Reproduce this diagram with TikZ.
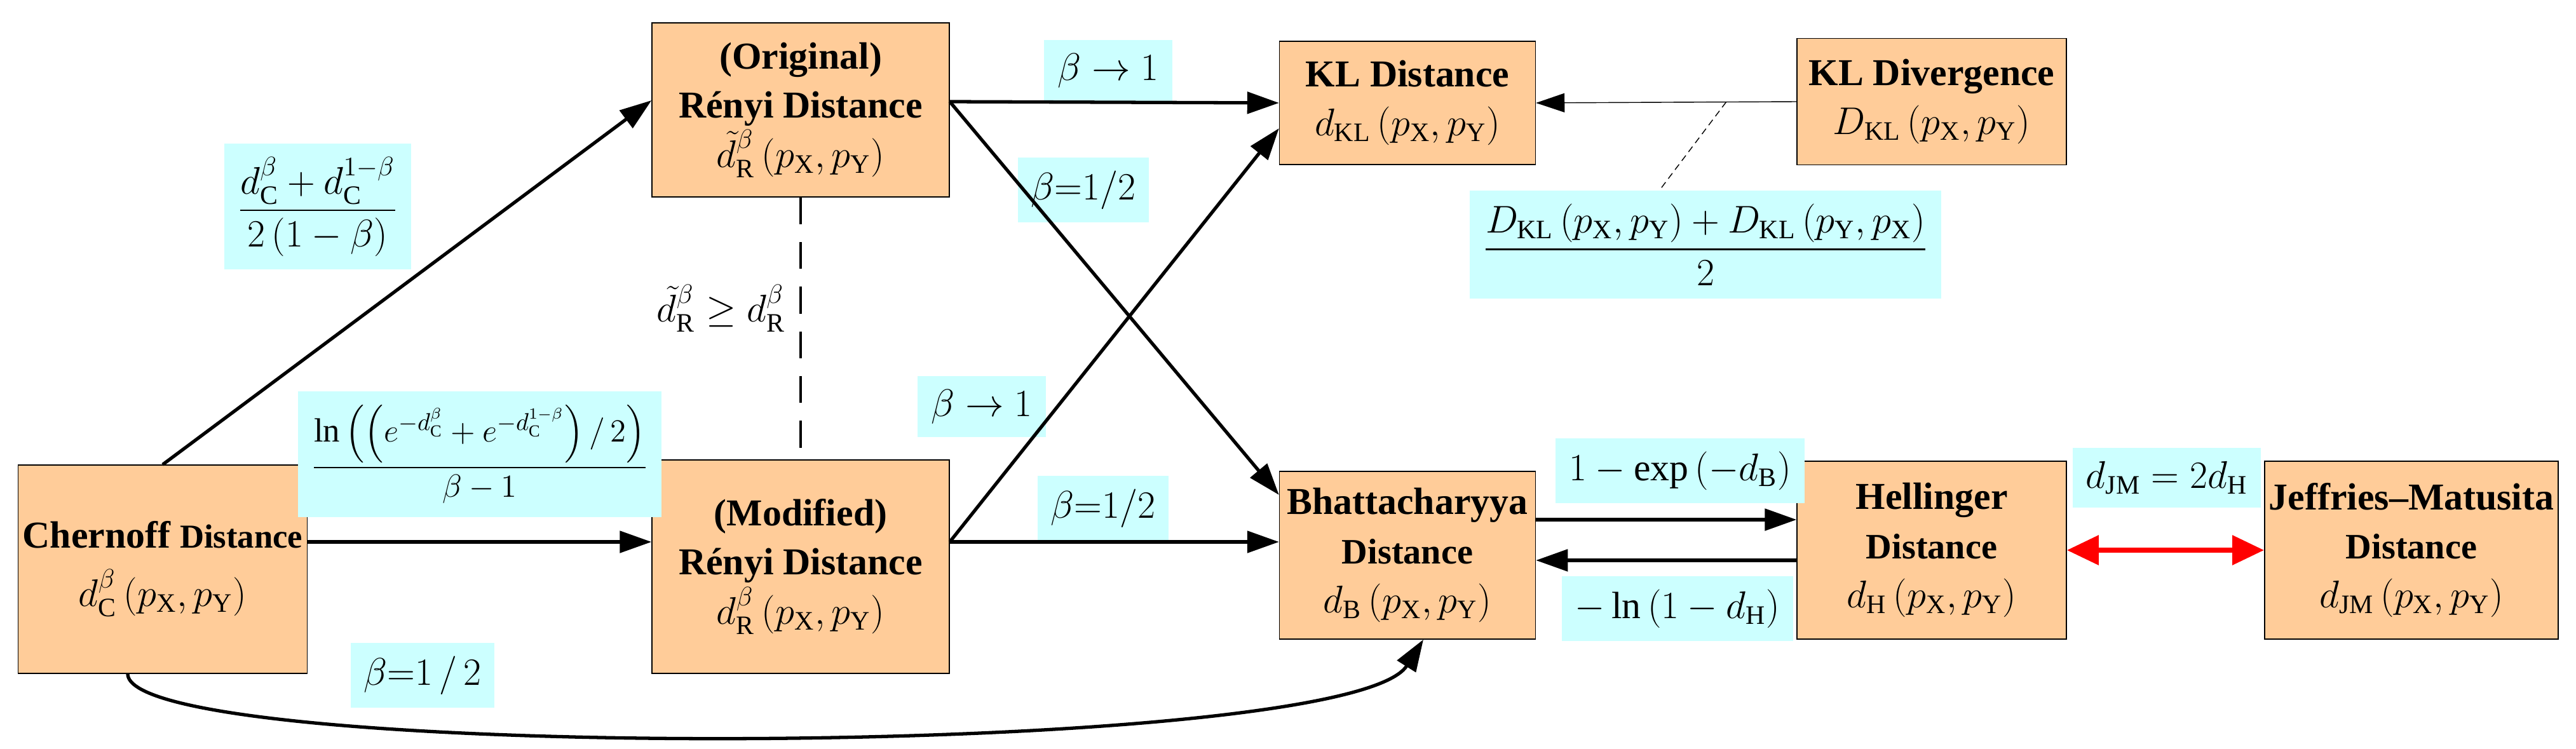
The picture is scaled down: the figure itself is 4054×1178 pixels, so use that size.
\documentclass[tikz,border=0pt]{standalone}
\usepackage{amsmath}
\usepackage{fontspec}
\setmainfont{Liberation Serif}
\usetikzlibrary{arrows.meta,calc}
\definecolor{boxfill}{HTML}{FFCC99}
\definecolor{labfill}{HTML}{CCFFFF}
\newcommand{\pxy}{\left(p_{\mathrm X},p_{\mathrm Y}\right)}
\tikzset{
  box/.style={draw, fill=boxfill, align=center, inner sep=2pt,
    font=\fontsize{17}{22}\selectfont\bfseries},
  lab/.style={fill=labfill, inner sep=6pt, font=\fontsize{17}{22}\selectfont},
  arr/.style={line width=1.5pt, -{Triangle[length=0.5cm,width=0.34cm]}},
}
\begin{document}
\begin{tikzpicture}[x=0.01cm, y=-0.01cm]
  \useasboundingbox (0,0) rectangle (4054,1178);
  % distance boxes
  \node[box, minimum width=450*0.01cm, minimum height=328*0.01cm] (cher) at (256,896)
    {Chernoff {\fontsize{15}{18}\selectfont Distance}\\[4pt] $d_{\mathrm C}^{\beta}\pxy$};
  \node[box, minimum width=468*0.01cm, minimum height=274*0.01cm] (orig) at (1260,173)
    {(Original)\\ Rényi Distance\\ $\tilde d_{\mathrm R}^{\beta}\pxy$};
  \node[box, minimum width=468*0.01cm, minimum height=336*0.01cm] (modi) at (1260,892)
    {(Modified)\\ Rényi Distance\\ $d_{\mathrm R}^{\beta}\pxy$};
  \node[box, minimum width=403*0.01cm, minimum height=194*0.01cm] (kld) at (2215,162)
    {KL Distance\\ $d_{\mathrm{KL}}\pxy$};
  \node[box, minimum width=424*0.01cm, minimum height=199*0.01cm] (kldiv) at (3040,160)
    {KL Divergence\\ $D_{\mathrm{KL}}\pxy$};
  \node[box, minimum width=403*0.01cm, minimum height=264*0.01cm] (bhat) at (2215,874)
    {Bhattacharyya\\ {\fontsize{16}{20}\selectfont Distance}\\ $d_{\mathrm B}\pxy$};
  \node[box, minimum width=424*0.01cm, minimum height=280*0.01cm] (hell) at (3040,866)
    {Hellinger\\ {\fontsize{16}{20}\selectfont Distance}\\ $d_{\mathrm H}\pxy$};
  \node[box, minimum width=429*0.01cm, minimum height=280*0.01cm] (jm) at (3795,866)
    {Jeffries--Matusita\\ {\fontsize{16}{20}\selectfont Distance}\\ $d_{\mathrm{JM}}\pxy$};
  % labels
  \node[lab] (lchro) at (500,325)
    {$\dfrac{d_{\mathrm C}^{\beta}+d_{\mathrm C}^{1-\beta}}{2\left(1-\beta\right)}$};
  \node[lab, font=\fontsize{15}{20}\selectfont] (lchmo) at (755,715)
    {$\dfrac{\ln\left(\left(e^{-d_{\mathrm C}^{\beta}}+e^{-d_{\mathrm C}^{1-\beta}}\right)/\,2\right)}{\beta-1}$};
  \node[lab] (lchbh) at (665,1063) {$\beta{=}1\,/\,2$};
  \node[font=\fontsize{17}{22}\selectfont] (lineq) at (1135,485)
    {$\tilde d_{\mathrm R}^{\beta}\geq d_{\mathrm R}^{\beta}$};
  \node[lab] (lorkl) at (1744,111) {$\beta\rightarrow1$};
  \node[lab] (lorbh) at (1705,299) {$\beta{=}1/2$};
  \node[lab] (lmokl) at (1545,640) {$\beta\rightarrow1$};
  \node[lab] (lmobh) at (1736,800) {$\beta{=}1/2$};
  \node[lab] (lkl) at (2684,385)
    {$\dfrac{D_{\mathrm{KL}}\left(p_{\mathrm X},p_{\mathrm Y}\right)+D_{\mathrm{KL}}\left(p_{\mathrm Y},p_{\mathrm X}\right)}{2}$};
  \node[lab] (lbhhe) at (2644,741) {$1-\exp\left(-d_{\mathrm B}\right)$};
  \node[lab] (lhebh) at (2640,958) {$-\ln\left(1-d_{\mathrm H}\right)$};
  \node[lab] (lhejm) at (3410,752) {$d_{\mathrm{JM}}=2d_{\mathrm H}$};
  % connectors
  \draw[arr] (cher.north) -- ($(orig.west)+(0,-15)$);
  \draw[arr] ($(cher.east)+(0,-43)$) -- ($(modi.west)+(0,-39)$);
  \draw[arr] ($(cher.south)+(-55,0)$) .. controls +(0,140) and +(-120,190) .. ($(bhat.south)+(25,0)$);
  \draw[arr] ($(orig.east)+(0,-13)$) -- (kld.west);
  \draw[arr] ($(orig.east)+(0,-13)$) -- ($(bhat.west)+(0,-95)$);
  \draw[arr] ($(modi.east)+(0,-39)$) -- ($(kld.west)+(0,40)$);
  \draw[arr] ($(modi.east)+(0,-39)$) -- ($(bhat.west)+(0,-21)$);
  \draw[line width=1pt, dash pattern=on 12pt off 8pt] (orig.south) -- (modi.north);
  \draw[-{Triangle[length=0.45cm,width=0.3cm]}] (kldiv.west) -- (kld.east);
  \coordinate (kmid) at ($(kldiv.west)!0.27!(kld.east)$);
  \draw[densely dashed] (kmid) -- ($(lkl.north)+(-72,0)$);
  \draw[arr] ($(bhat.east)+(0,-56)$) -- ($(hell.west)+(0,-48)$);
  \draw[arr] ($(hell.west)+(0,16)$) -- ($(bhat.east)+(0,8)$);
  \draw[line width=2.5pt, red, {Triangle[length=0.5cm,width=0.45cm]}-{Triangle[length=0.5cm,width=0.45cm]}]
    (hell.east) -- (jm.west);
\end{tikzpicture}
\end{document}
